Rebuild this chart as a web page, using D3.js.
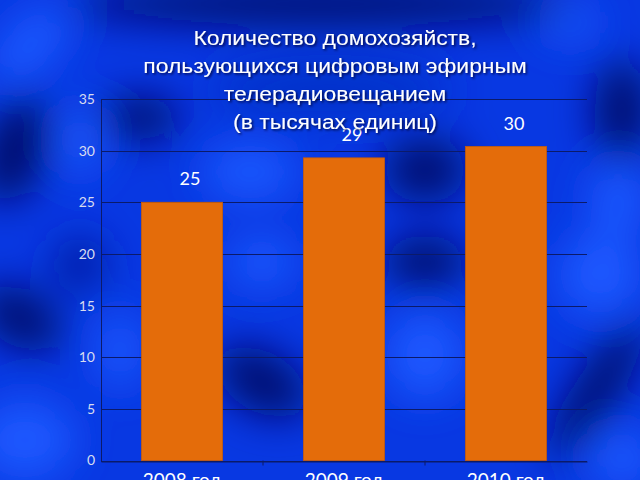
<!DOCTYPE html>
<html><head><meta charset="utf-8">
<script src="https://cdn.jsdelivr.net/npm/d3@7"></script>
<style>html,body{margin:0;padding:0;background:#0532d8;overflow:hidden}</style>
</head><body>
<svg id="c" width="640" height="480"></svg>
<script>
const categories = ["2008 год", "2009 год", "2010 год"];
const values = [25, 29.3, 30.4];
const yTicks = [0, 5, 10, 15, 20, 25, 30, 35];
const titleLines = ["Количество домохозяйств,", "пользующихся цифровым эфирным", "телерадиовещанием", "(в тысячах единиц)"];

const W = 640, H = 480;
const m = {left: 101, right: 53, top: 99, bottom: 20};
const svg = d3.select("#c");
const defs = svg.append("defs");
defs.append("filter").attr("id", "blur").attr("filterUnits", "userSpaceOnUse")
  .attr("x", -100).attr("y", -100).attr("width", 840).attr("height", 680)
  .append("feGaussianBlur").attr("stdDeviation", 20);
const sh = defs.append("filter").attr("id", "shadow").attr("x", "-10%").attr("y", "-30%").attr("width", "120%").attr("height", "160%");
sh.append("feDropShadow").attr("dx", 1.5).attr("dy", 1.5).attr("stdDeviation", 1.2).attr("flood-color", "#000030").attr("flood-opacity", 0.8);

// background
const bg = svg.append("g");
bg.append("rect").attr("width", W).attr("height", H).attr("fill", "#0838e2");
const blobs = bg.append("g").attr("filter", "url(#blur)");
const dark = "#000a70", bright = "#1a58ff";
[
  [30, 45, 48, 26, -45, bright], [80, 140, 22, 35, 0, bright], [250, 172, 48, 28, 0, bright],
  [120, 350, 22, 40, 0, bright], [262, 262, 35, 24, 0, bright], [425, 355, 40, 45, 0, bright],
  [600, 275, 42, 42, 0, bright], [618, 200, 28, 38, 0, bright], [25, 440, 50, 40, 0, bright],
  [622, 458, 35, 28, 0, bright], [570, 22, 30, 18, 0, bright],
  [320, 4, 250, 22, 0, dark], [15, 150, 32, 55, 20, dark], [20, 318, 45, 28, 30, dark],
  [140, 118, 40, 22, 0, dark], [425, 170, 42, 32, 0, dark], [425, 262, 42, 26, 0, dark],
  [262, 382, 50, 30, 30, dark], [622, 110, 28, 50, 0, dark], [597, 390, 80, 22, -57, dark],
  [80, 265, 28, 28, 0, "#0320a8"], [330, 90, 120, 25, 0, "#0630c8"]
].forEach(([cx, cy, rx, ry, rot, col]) => {
  blobs.append("ellipse").attr("cx", cx).attr("cy", cy).attr("rx", rx).attr("ry", ry)
    .attr("transform", `rotate(${rot},${cx},${cy})`).attr("fill", col);
});

const x = d3.scaleBand().domain(categories).range([m.left, W - m.right]).paddingInner(0.5).paddingOuter(0.25);
const y = d3.scaleLinear().domain([0, 35]).range([460.5, 99]);

// gridlines
svg.append("g").selectAll("line").data(yTicks).join("line")
  .attr("x1", m.left).attr("x2", W - m.right)
  .attr("y1", d => Math.round(y(d)) + 0.5).attr("y2", d => Math.round(y(d)) + 0.5)
  .attr("stroke", "#0b1a6a").attr("stroke-width", 1.2);

// y axis
const ya = svg.append("g").attr("transform", `translate(${m.left},0)`)
  .call(d3.axisLeft(y).tickValues(yTicks).tickSize(0).tickPadding(6));
ya.select(".domain").attr("stroke", "#0b1a6a");
ya.selectAll("text").attr("fill", "#d8dcf0").attr("font-family", "Lato, 'Open Sans', sans-serif").attr("font-size", 14);

// x axis
const xa = svg.append("g").attr("transform", `translate(0,${Math.round(y(0)) + 0.5})`)
  .call(d3.axisBottom(x).tickSize(0).tickPadding(12));
xa.select(".domain").attr("stroke", "#0b1a6a");
xa.selectAll("text").attr("fill", "#ffffff").attr("font-family", "Lato, 'Open Sans', sans-serif").attr("font-size", 19);
svg.append("g").selectAll("line").data(categories.slice(0, -1)).join("line")
  .attr("x1", d => x(d) + x.step() * 0.75).attr("x2", d => x(d) + x.step() * 0.75)
  .attr("y1", y(0)).attr("y2", y(0) + 5).attr("stroke", "#0b1a6a");

// bars
svg.append("g").selectAll("rect").data(values).join("rect")
  .attr("x", (d, i) => x(categories[i])).attr("width", x.bandwidth())
  .attr("y", d => y(d)).attr("height", d => y(0) - y(d))
  .attr("fill", "#e46c0a").attr("stroke", "#c85c08").attr("stroke-width", 0.8);

// value labels
svg.append("g").selectAll("text").data(values).join("text")
  .attr("x", (d, i) => x(categories[i]) + x.bandwidth() / 2 + 8)
  .attr("y", d => y(d) - 17)
  .attr("text-anchor", "middle").attr("fill", "#ffffff")
  .attr("font-family", "Lato, 'Open Sans', sans-serif").attr("font-size", 18)
  .text(d => d3.format(".0f")(d));

// title
svg.append("g").attr("filter", "url(#shadow)")
  .append("g").attr("transform", "translate(335,0) scale(1.09,1)")
  .selectAll("text").data(titleLines).join("text")
  .attr("x", 0).attr("y", (d, i) => 45 + i * 28)
  .attr("text-anchor", "middle").attr("fill", "#ffffff")
  .attr("font-family", "'Liberation Sans', Arial, sans-serif").attr("font-size", 21)
  .text(d => d);
</script>
</body></html>
